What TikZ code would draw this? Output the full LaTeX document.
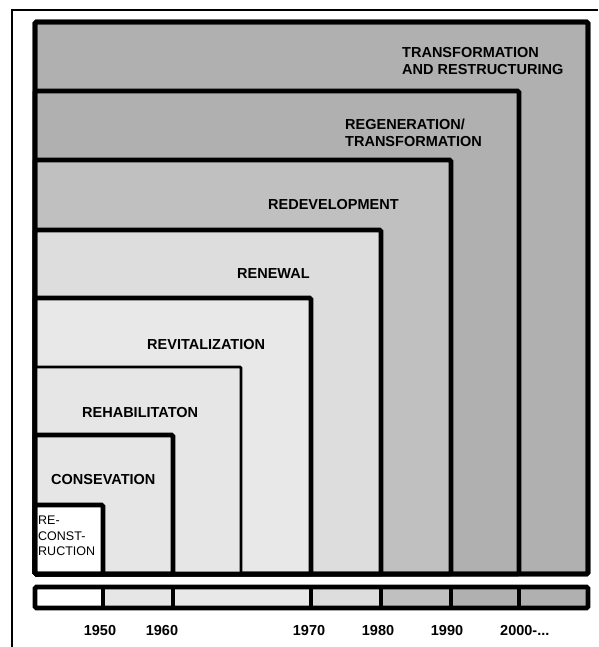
\documentclass[tikz,border=0pt]{standalone}
\usepackage{fontspec}
\setmainfont{Liberation Sans}
\definecolor{gA}{HTML}{B0B0B0}
\definecolor{gB}{HTML}{C0C0C0}
\definecolor{gC}{HTML}{DDDDDD}
\definecolor{gD}{HTML}{E8E8E8}
\definecolor{gE}{HTML}{E6E6E6}
\begin{document}
\begin{tikzpicture}[x=1pt,y=-1pt,
  era/.style={draw=black,line width=4.8pt,rounded corners=1.5pt},
  thinera/.style={draw=black,line width=2.6pt,rounded corners=1pt},
  lbl/.style={font=\fontsize{14.5}{17.5}\selectfont\bfseries,anchor=west,inner sep=0pt,align=left},
  yr/.style={font=\fontsize{14.5}{17}\selectfont\bfseries,inner sep=0pt},
  small/.style={font=\fontsize{12.5}{15.5}\selectfont,anchor=north west,inner sep=0pt,align=left}]
\useasboundingbox (0,0) rectangle (598,647);
% outer frame
\draw[line width=1.5pt] (12,647) -- (12,10) -- (598,10);
% nested boxes
\path[era,fill=gA] (35,22) rectangle (588,574);
\path[era,fill=gA] (35,91) rectangle (519,574);
\path[era,fill=gB] (35,160) rectangle (451,574);
\path[era,fill=gC] (35,230) rectangle (381,574);
\path[era,fill=gD] (35,298) rectangle (311,574);
\path[thinera,fill=gE] (35,367) rectangle (241,574);
\path[era,fill=gE] (35,435) rectangle (173,574);
\path[era,fill=white] (35,505) rectangle (103,574);
\path[era,fill=none] (35,22) rectangle (588,574);
% time bar
\path[fill=white] (35,587) rectangle (103,608);
\path[fill=gE] (103,587) rectangle (173,608);
\path[fill=gD] (173,587) rectangle (311,608);
\path[fill=gC] (311,587) rectangle (381,608);
\path[fill=gB] (381,587) rectangle (451,608);
\path[fill=gA] (451,587) rectangle (588,608);
\foreach \x in {103,173,311,381,451,519}{
  \draw[line width=4.5pt] (\x,587) -- (\x,608);
}
\path[era] (35,587) rectangle (588,608);
% labels
\node[lbl] (t1) at (402,61) {TRANSFORMATION\\AND RESTRUCTURING};
\node[lbl] (t2) at (345,133) {REGENERATION/\\TRANSFORMATION};
\node[lbl] (t3) at (268,205) {REDEVELOPMENT};
\node[lbl] (t4) at (237,274) {RENEWAL};
\node[lbl] (t5) at (147,345) {REVITALIZATION};
\node[lbl] (t6) at (82,413) {REHABILITATON};
\node[lbl] (t7) at (51,480) {CONSEVATION};
\node[small] (t8) at (38,516) {RE-\\CONST-\\RUCTION};
% years
\node[yr] (y1) at (100,631) {1950};
\node[yr] (y2) at (162,631) {1960};
\node[yr] (y3) at (309,631) {1970};
\node[yr] (y4) at (378,631) {1980};
\node[yr] (y5) at (447,631) {1990};
\node[yr,anchor=west] (y6) at (500,631) {2000-...};
\end{tikzpicture}
\end{document}
